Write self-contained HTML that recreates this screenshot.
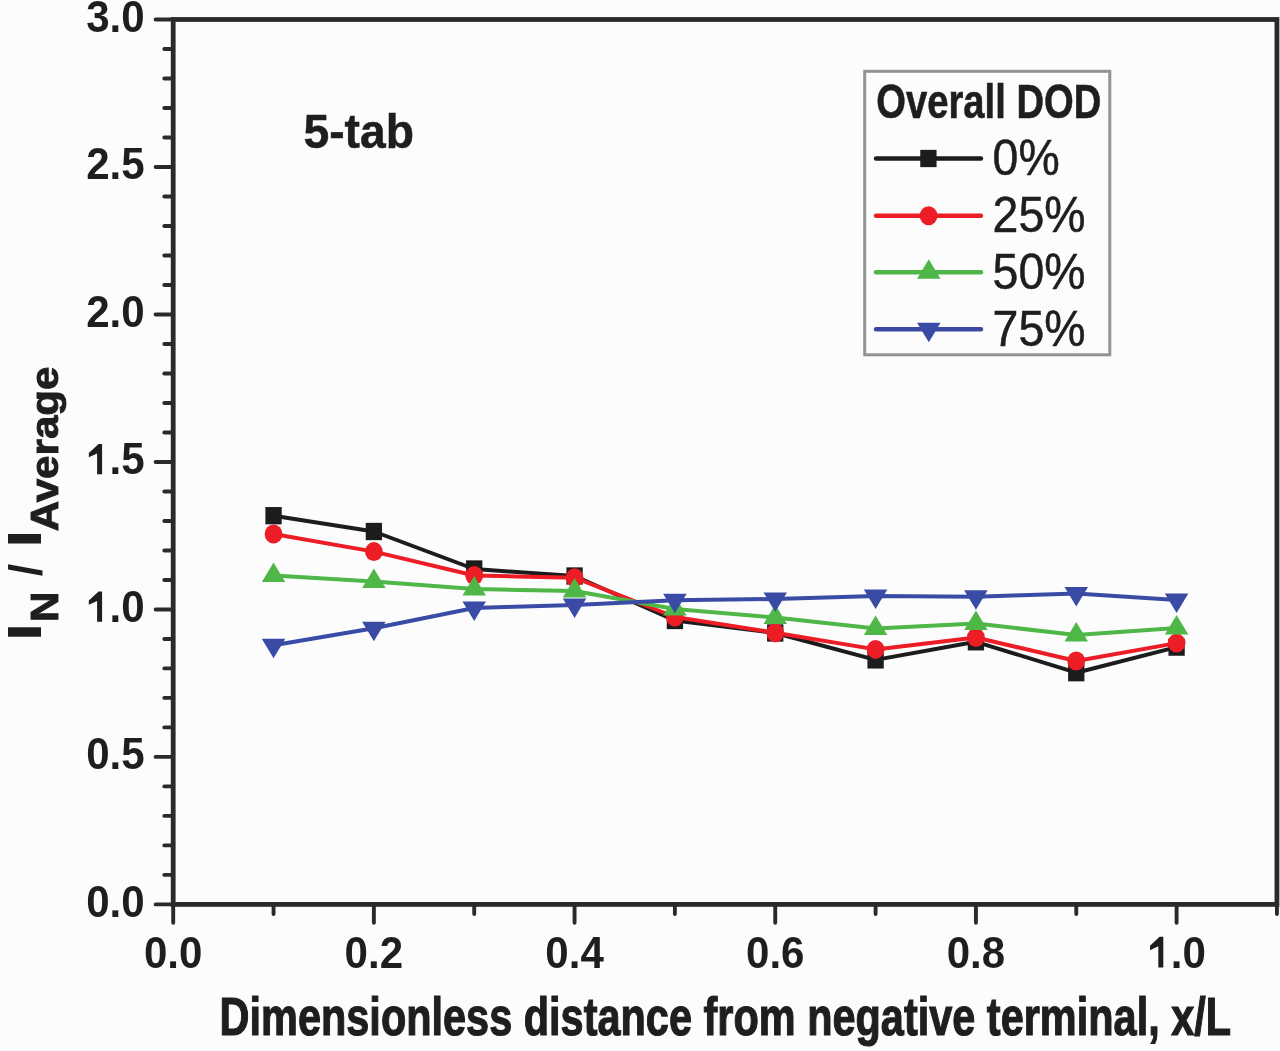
<!DOCTYPE html><html><head><meta charset="utf-8"><style>html,body{margin:0;padding:0;background:#fcfcfc;}svg{display:block;filter:blur(0.6px)}text{font-family:"Liberation Sans",sans-serif;}</style></head><body>
<svg width="1280" height="1051" viewBox="0 0 1280 1051">
<rect width="1280" height="1051" fill="#fcfcfc"/>
<path d="M155.6 904.40H173.2M164.3 874.90H173.2M164.3 845.41H173.2M164.3 815.91H173.2M164.3 786.41H173.2M155.6 756.91H173.2M164.3 727.42H173.2M164.3 697.92H173.2M164.3 668.42H173.2M164.3 638.93H173.2M155.6 609.43H173.2M164.3 579.93H173.2M164.3 550.44H173.2M164.3 520.94H173.2M164.3 491.44H173.2M155.6 461.94H173.2M164.3 432.45H173.2M164.3 402.95H173.2M164.3 373.45H173.2M164.3 343.96H173.2M155.6 314.46H173.2M164.3 284.96H173.2M164.3 255.47H173.2M164.3 225.97H173.2M164.3 196.47H173.2M155.6 166.97H173.2M164.3 137.48H173.2M164.3 107.98H173.2M164.3 78.48H173.2M164.3 48.99H173.2M155.6 19.49H173.2M173.20 904.4V922.8M273.54 904.4V914.0M373.88 904.4V922.8M474.22 904.4V914.0M574.56 904.4V922.8M674.90 904.4V914.0M775.24 904.4V922.8M875.58 904.4V914.0M975.92 904.4V922.8M1076.26 904.4V914.0M1176.60 904.4V922.8M1276.94 904.4V914.0" stroke="#2a2a2a" stroke-width="3.9" fill="none" stroke-linecap="round"/>
<rect x="173.20" y="19.49" width="1103.74" height="884.91" fill="none" stroke="#2a2a2a" stroke-width="4.8"/>
<text transform="translate(144.65 916.80) scale(0.9568 1)" font-size="44" font-weight="bold" text-anchor="end" fill="#1e1e1e">0.0</text>
<text transform="translate(144.65 769.31) scale(0.9568 1)" font-size="44" font-weight="bold" text-anchor="end" fill="#1e1e1e">0.5</text>
<path d="M102.10 621.83 L97.10 621.83 L97.10 601.03 L88.82 604.75 L88.82 600.56 L98.05 591.92 L98.58 591.56 L102.10 591.56 Z" fill="#1e1e1e"/>
<text transform="translate(109.54 621.83) scale(0.9568 1)" font-size="44" font-weight="bold" fill="#1e1e1e">.0</text>
<path d="M102.10 474.34 L97.10 474.34 L97.10 453.55 L88.82 457.26 L88.82 453.08 L98.05 444.44 L98.58 444.07 L102.10 444.07 Z" fill="#1e1e1e"/>
<text transform="translate(109.54 474.34) scale(0.9568 1)" font-size="44" font-weight="bold" fill="#1e1e1e">.5</text>
<text transform="translate(144.65 326.86) scale(0.9568 1)" font-size="44" font-weight="bold" text-anchor="end" fill="#1e1e1e">2.0</text>
<text transform="translate(144.65 179.37) scale(0.9568 1)" font-size="44" font-weight="bold" text-anchor="end" fill="#1e1e1e">2.5</text>
<text transform="translate(144.65 31.89) scale(0.9568 1)" font-size="44" font-weight="bold" text-anchor="end" fill="#1e1e1e">3.0</text>
<text transform="translate(173.20 967.6) scale(0.9356 1)" font-size="45" font-weight="bold" text-anchor="middle" fill="#1e1e1e">0.0</text>
<text transform="translate(373.88 967.6) scale(0.9356 1)" font-size="45" font-weight="bold" text-anchor="middle" fill="#1e1e1e">0.2</text>
<text transform="translate(574.56 967.6) scale(0.9356 1)" font-size="45" font-weight="bold" text-anchor="middle" fill="#1e1e1e">0.4</text>
<text transform="translate(775.24 967.6) scale(0.9356 1)" font-size="45" font-weight="bold" text-anchor="middle" fill="#1e1e1e">0.6</text>
<text transform="translate(975.92 967.6) scale(0.9356 1)" font-size="45" font-weight="bold" text-anchor="middle" fill="#1e1e1e">0.8</text>
<path d="M1163.31 967.60 L1158.32 967.60 L1158.32 946.33 L1150.03 950.13 L1150.03 945.85 L1159.26 937.01 L1159.80 936.64 L1163.31 936.64 Z" fill="#1e1e1e"/>
<text transform="translate(1170.75 967.6) scale(0.9356 1)" font-size="45" font-weight="bold" fill="#1e1e1e">.0</text>
<polyline points="273.54,515.70 373.88,531.50 474.22,569.00 574.56,576.00 674.90,620.50 775.24,633.00 875.58,659.90 975.92,641.80 1076.26,672.70 1176.60,647.10" fill="none" stroke="#1c1c1c" stroke-width="4.0" stroke-linejoin="round"/>
<rect x="265.39" y="507.05" width="16.3" height="17.3" fill="#1c1c1c"/>
<rect x="365.73" y="522.85" width="16.3" height="17.3" fill="#1c1c1c"/>
<rect x="466.07" y="560.35" width="16.3" height="17.3" fill="#1c1c1c"/>
<rect x="566.41" y="567.35" width="16.3" height="17.3" fill="#1c1c1c"/>
<rect x="666.75" y="611.85" width="16.3" height="17.3" fill="#1c1c1c"/>
<rect x="767.09" y="624.35" width="16.3" height="17.3" fill="#1c1c1c"/>
<rect x="867.43" y="651.25" width="16.3" height="17.3" fill="#1c1c1c"/>
<rect x="967.77" y="633.15" width="16.3" height="17.3" fill="#1c1c1c"/>
<rect x="1068.11" y="664.05" width="16.3" height="17.3" fill="#1c1c1c"/>
<rect x="1168.45" y="638.45" width="16.3" height="17.3" fill="#1c1c1c"/>
<polyline points="273.54,534.00 373.88,551.60 474.22,575.50 574.56,577.70 674.90,617.00 775.24,632.70 875.58,649.40 975.92,637.50 1076.26,661.00 1176.60,643.10" fill="none" stroke="#ec1d25" stroke-width="4.0" stroke-linejoin="round"/>
<ellipse cx="273.54" cy="534.00" rx="8.9" ry="9.5" fill="#ec1d25"/>
<ellipse cx="373.88" cy="551.60" rx="8.9" ry="9.5" fill="#ec1d25"/>
<ellipse cx="474.22" cy="575.50" rx="8.9" ry="9.5" fill="#ec1d25"/>
<ellipse cx="574.56" cy="577.70" rx="8.9" ry="9.5" fill="#ec1d25"/>
<ellipse cx="674.90" cy="617.00" rx="8.9" ry="9.5" fill="#ec1d25"/>
<ellipse cx="775.24" cy="632.70" rx="8.9" ry="9.5" fill="#ec1d25"/>
<ellipse cx="875.58" cy="649.40" rx="8.9" ry="9.5" fill="#ec1d25"/>
<ellipse cx="975.92" cy="637.50" rx="8.9" ry="9.5" fill="#ec1d25"/>
<ellipse cx="1076.26" cy="661.00" rx="8.9" ry="9.5" fill="#ec1d25"/>
<ellipse cx="1176.60" cy="643.10" rx="8.9" ry="9.5" fill="#ec1d25"/>
<polyline points="273.54,575.50 373.88,581.50 474.22,589.00 574.56,591.00 674.90,609.00 775.24,617.60 875.58,628.50 975.92,623.50 1076.26,635.00 1176.60,628.00" fill="none" stroke="#4fb748" stroke-width="4.0" stroke-linejoin="round"/>
<polygon points="273.54,562.50 261.79,582.00 285.29,582.00" fill="#4fb748"/>
<polygon points="373.88,568.50 362.13,588.00 385.63,588.00" fill="#4fb748"/>
<polygon points="474.22,576.00 462.47,595.50 485.97,595.50" fill="#4fb748"/>
<polygon points="574.56,578.00 562.81,597.50 586.31,597.50" fill="#4fb748"/>
<polygon points="674.90,596.00 663.15,615.50 686.65,615.50" fill="#4fb748"/>
<polygon points="775.24,604.60 763.49,624.10 786.99,624.10" fill="#4fb748"/>
<polygon points="875.58,615.50 863.83,635.00 887.33,635.00" fill="#4fb748"/>
<polygon points="975.92,610.50 964.17,630.00 987.67,630.00" fill="#4fb748"/>
<polygon points="1076.26,622.00 1064.51,641.50 1088.01,641.50" fill="#4fb748"/>
<polygon points="1176.60,615.00 1164.85,634.50 1188.35,634.50" fill="#4fb748"/>
<polyline points="273.54,645.30 373.88,628.20 474.22,608.00 574.56,605.00 674.90,600.30 775.24,599.00 875.58,596.00 975.92,596.70 1076.26,593.50 1176.60,600.00" fill="none" stroke="#3a4ba6" stroke-width="4.0" stroke-linejoin="round"/>
<polygon points="273.54,658.30 261.79,638.80 285.29,638.80" fill="#3a4ba6"/>
<polygon points="373.88,641.20 362.13,621.70 385.63,621.70" fill="#3a4ba6"/>
<polygon points="474.22,621.00 462.47,601.50 485.97,601.50" fill="#3a4ba6"/>
<polygon points="574.56,618.00 562.81,598.50 586.31,598.50" fill="#3a4ba6"/>
<polygon points="674.90,613.30 663.15,593.80 686.65,593.80" fill="#3a4ba6"/>
<polygon points="775.24,612.00 763.49,592.50 786.99,592.50" fill="#3a4ba6"/>
<polygon points="875.58,609.00 863.83,589.50 887.33,589.50" fill="#3a4ba6"/>
<polygon points="975.92,609.70 964.17,590.20 987.67,590.20" fill="#3a4ba6"/>
<polygon points="1076.26,606.50 1064.51,587.00 1088.01,587.00" fill="#3a4ba6"/>
<polygon points="1176.60,613.00 1164.85,593.50 1188.35,593.50" fill="#3a4ba6"/>
<rect x="864.7" y="71.3" width="245.1" height="283.5" fill="none" stroke="#939393" stroke-width="3"/>
<text transform="translate(876.3 117.6) scale(0.799 1)" font-size="47.8" font-weight="bold" fill="#1e1e1e" stroke="#1e1e1e" stroke-width="0.6">Overall DOD</text>
<line x1="876" y1="158.5" x2="981" y2="158.5" stroke="#1c1c1c" stroke-width="4.4" stroke-linecap="round"/>
<rect x="920.25" y="149.85" width="16.3" height="17.3" fill="#1c1c1c"/>
<text transform="translate(992.6 175.2) scale(0.938 1)" font-size="49.5" fill="#1e1e1e" stroke="#1e1e1e" stroke-width="0.5">0%</text>
<line x1="876" y1="215.8" x2="981" y2="215.8" stroke="#ec1d25" stroke-width="4.4" stroke-linecap="round"/>
<ellipse cx="928.60" cy="215.80" rx="8.9" ry="9.5" fill="#ec1d25"/>
<text transform="translate(992.6 231.7) scale(0.938 1)" font-size="49.5" fill="#1e1e1e" stroke="#1e1e1e" stroke-width="0.5">25%</text>
<line x1="876" y1="272.2" x2="981" y2="272.2" stroke="#4fb748" stroke-width="4.4" stroke-linecap="round"/>
<polygon points="928.80,259.20 917.05,278.70 940.55,278.70" fill="#4fb748"/>
<text transform="translate(992.6 289.3) scale(0.938 1)" font-size="49.5" fill="#1e1e1e" stroke="#1e1e1e" stroke-width="0.5">50%</text>
<line x1="876" y1="329.3" x2="981" y2="329.3" stroke="#3a4ba6" stroke-width="4.4" stroke-linecap="round"/>
<polygon points="928.80,342.30 917.05,322.80 940.55,322.80" fill="#3a4ba6"/>
<text transform="translate(992.6 345.9) scale(0.938 1)" font-size="49.5" fill="#1e1e1e" stroke="#1e1e1e" stroke-width="0.5">75%</text>
<text transform="translate(303.5 147.9) scale(0.98 1)" font-size="47.2" font-weight="bold" fill="#1e1e1e" stroke="#1e1e1e" stroke-width="0.5">5-tab</text>
<text transform="translate(219.6 1035.2) scale(0.775 1)" font-size="53.5" font-weight="bold" fill="#1e1e1e" stroke="#1e1e1e" stroke-width="1.2">Dimensionless distance from negative terminal, x/L</text>
<text transform="translate(41.30 641.00) rotate(-90) scale(1.350 1)" font-size="48.0" font-weight="bold" fill="#1e1e1e" stroke="#1e1e1e" stroke-width="0.0">I</text>
<text transform="translate(57.90 622.00) rotate(-90) scale(1.103 1)" font-size="38.2" font-weight="bold" fill="#1e1e1e" stroke="#1e1e1e" stroke-width="0.9">N</text>
<text transform="translate(41.60 576.30) rotate(-90) scale(0.980 1)" font-size="46.0" font-weight="bold" fill="#1e1e1e" stroke="#1e1e1e" stroke-width="0.0">/</text>
<text transform="translate(41.30 547.80) rotate(-90) scale(1.350 1)" font-size="48.0" font-weight="bold" fill="#1e1e1e" stroke="#1e1e1e" stroke-width="0.0">I</text>
<text transform="translate(57.90 531.20) rotate(-90) scale(1.103 1)" font-size="38.2" font-weight="bold" fill="#1e1e1e" stroke="#1e1e1e" stroke-width="0.9">Average</text>
</svg></body></html>
